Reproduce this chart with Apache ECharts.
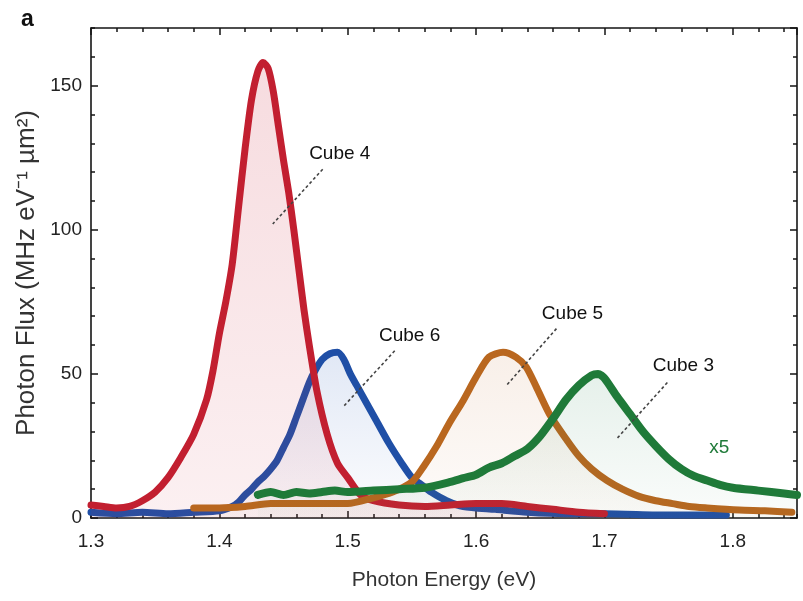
<!DOCTYPE html>
<html>
<head>
<meta charset="utf-8">
<script src="https://cdn.jsdelivr.net/npm/echarts@6/dist/echarts.min.js"></script>
<style>
  html, body { margin: 0; background: #fff; }
  #chart { width: 803px; height: 601px; }
</style>
</head>
<body>
<div id="chart"></div>
<script>
// values (photon energy in eV, flux in MHz eV^-1 um^2)
const cube4Energy = [1.300, 1.310, 1.320, 1.330, 1.340, 1.350, 1.360, 1.370, 1.380, 1.390, 1.395, 1.400, 1.405, 1.410, 1.415, 1.420, 1.425, 1.430, 1.434, 1.438, 1.442, 1.446, 1.450, 1.454, 1.458, 1.462, 1.466, 1.470, 1.476, 1.484, 1.492, 1.500, 1.510, 1.520, 1.540, 1.560, 1.580, 1.600, 1.620, 1.640, 1.660, 1.680, 1.700];
const cube4Flux = [4.5, 4, 3.5, 4, 6, 9, 14, 21, 29, 41, 51, 64, 75, 88, 108, 128, 145, 155, 158, 156, 148, 136, 124, 113, 100, 86, 72, 60, 44, 29, 19, 14, 8, 6, 4.5, 4, 4.5, 5, 5, 4, 3, 2, 1.5];

const cube6Energy = [1.300, 1.320, 1.340, 1.360, 1.380, 1.400, 1.410, 1.415, 1.420, 1.425, 1.430, 1.435, 1.440, 1.445, 1.450, 1.455, 1.460, 1.465, 1.470, 1.475, 1.480, 1.486, 1.492, 1.497, 1.502, 1.507, 1.512, 1.522, 1.532, 1.542, 1.550, 1.556, 1.565, 1.577, 1.590, 1.615, 1.640, 1.670, 1.700, 1.750, 1.795];
const cube6Flux = [2, 1.5, 2, 1.5, 2, 2.5, 4, 5.5, 8, 10, 12.5, 14.5, 17, 20, 24.5, 29, 35, 41, 47, 51.5, 55, 57, 57.5, 55, 50, 46, 42, 34, 26, 19, 14, 12, 9, 6, 4, 3, 2, 1.5, 1.5, 1, 1];

const cube5Energy = [1.380, 1.400, 1.420, 1.440, 1.460, 1.480, 1.500, 1.520, 1.535, 1.550, 1.559, 1.569, 1.579, 1.590, 1.600, 1.610, 1.621, 1.631, 1.639, 1.647, 1.657, 1.670, 1.680, 1.690, 1.702, 1.714, 1.727, 1.740, 1.753, 1.766, 1.780, 1.805, 1.825, 1.846];
const cube5Flux = [3.5, 3.5, 4, 5, 5, 5, 5, 7, 9, 12.5, 17.8, 24.7, 32.8, 40.8, 48.9, 55.8, 57.5, 55.8, 52.4, 45.4, 36.2, 27.5, 21.5, 17, 13, 10, 7.5, 6, 5, 4, 3.5, 2.8, 2.5, 2];

// Cube 3 is plotted x5
const cube3Energy = [1.430, 1.440, 1.450, 1.460, 1.470, 1.480, 1.490, 1.500, 1.520, 1.540, 1.560, 1.580, 1.590, 1.600, 1.610, 1.620, 1.630, 1.640, 1.650, 1.660, 1.670, 1.680, 1.690, 1.695, 1.700, 1.710, 1.720, 1.730, 1.740, 1.750, 1.760, 1.770, 1.780, 1.790, 1.800, 1.820, 1.840, 1.850];
const cube3Flux = [8, 9, 8, 9, 8.5, 9, 9.5, 9, 9.5, 10, 10.5, 12.5, 13.8, 15, 17.5, 19, 21.5, 24, 28.5, 34.5, 41, 46, 49.5, 50, 48.5, 42, 36, 30, 25, 20.5, 17, 14.5, 13, 11.5, 10.5, 9.5, 8.5, 8];

const xTickValues = [1.3, 1.4, 1.5, 1.6, 1.7, 1.8];
const yTickValues = [0, 50, 100, 150];

const FONT = '"Liberation Sans", Arial, Helvetica, sans-serif';
const INK = '#151515';

const zip = (xs, ys) => xs.map((x, i) => [x, ys[i]]);

const fade = (rgb, top, bottom) => new echarts.graphic.LinearGradient(0, 0, 0, 1, [
  { offset: 0, color: `rgba(${rgb},${top})` },
  { offset: 1, color: `rgba(${rgb},${bottom})` }
]);

function curve(name, energy, flux, color, rgb, top, bottom, width, z) {
  return {
    name,
    type: 'line',
    data: zip(energy, flux),
    smooth: 0.25,
    showSymbol: false,
    z,
    lineStyle: { color, width, cap: 'round', join: 'round' },
    areaStyle: { color: fade(rgb, top, bottom), origin: 'start' },
    silent: true
  };
}

function xAxis(position, interval, tickLen, main) {
  return {
    type: 'value',
    position,
    min: 1.3,
    max: 1.85,
    interval,
    axisLine: { show: main, onZero: false, lineStyle: { color: INK, width: 1.6 } },
    axisTick: { show: true, inside: true, length: tickLen, lineStyle: { color: INK, width: 1.5 } },
    axisLabel: {
      show: main && position === 'bottom',
      showMaxLabel: false,
      margin: 14,
      color: '#222',
      fontFamily: FONT,
      fontSize: 19,
      formatter: (v) => (xTickValues.some((t) => Math.abs(t - v) < 1e-6) ? String(v) : '')
    },
    splitLine: { show: false },
    name: main && position === 'bottom' ? 'Photon Energy (eV)' : '',
    nameLocation: 'middle',
    nameGap: 52,
    nameTextStyle: { color: '#333', fontFamily: FONT, fontSize: 21 }
  };
}

function yAxis(position, interval, tickLen, main) {
  return {
    type: 'value',
    position,
    min: 0,
    max: 170,
    interval,
    axisLine: { show: main, onZero: false, lineStyle: { color: INK, width: 1.6 } },
    axisTick: { show: true, inside: true, length: tickLen, lineStyle: { color: INK, width: 1.5 } },
    axisLabel: {
      show: main && position === 'left',
      showMaxLabel: false,
      margin: 9,
      color: '#222',
      fontFamily: FONT,
      fontSize: 19,
      formatter: (v) => (yTickValues.includes(v) ? String(v) : '')
    },
    splitLine: { show: false },
    name: main && position === 'left' ? 'Photon Flux (MHz eV⁻¹ µm²)' : '',
    nameLocation: 'middle',
    nameGap: 46,
    nameTextStyle: { color: '#333', fontFamily: FONT, fontSize: 26 }
  };
}

const chart = echarts.init(document.getElementById('chart'), null, { renderer: 'canvas' });

chart.setOption({
  animation: false,
  backgroundColor: '#fff',
  grid: { left: 91, right: 6, top: 28, bottom: 83 },
  xAxis: [
    xAxis('bottom', 0.1, 7, true),
    xAxis('bottom', 0.02, 4, false),
    xAxis('top', 0.1, 7, true),
    xAxis('top', 0.02, 4, false)
  ],
  yAxis: [
    yAxis('left', 50, 7, true),
    yAxis('left', 10, 4, false),
    yAxis('right', 50, 7, true),
    yAxis('right', 10, 4, false)
  ],
  series: [
    curve('Cube 6', cube6Energy, cube6Flux, '#1f4fa6', '40,90,185', 0.2, 0.02, 7, 2),
    curve('Cube 4', cube4Energy, cube4Flux, '#c21f30', '205,45,65', 0.24, 0.1, 7, 3),
    curve('Cube 5', cube5Energy, cube5Flux, '#b9671f', '195,115,55', 0.16, 0.04, 7, 4),
    curve('Cube 3', cube3Energy, cube3Flux, '#1f7a39', '40,130,80', 0.17, 0.03, 8, 5)
  ]
});

// annotation text and dashed leaders, placed in data coordinates
const notes = [
  { text: 'Cube 4', at: [1.4938, 126.3], from: [1.4805, 121], to: [1.4416, 102] },
  { text: 'Cube 6', at: [1.5482, 63.3], from: [1.5366, 58], to: [1.4961, 38.4] },
  { text: 'Cube 5', at: [1.6751, 70.9], from: [1.6626, 65.7], to: [1.6237, 46] },
  { text: 'Cube 3', at: [1.7615, 52.9], from: [1.749, 47], to: [1.71, 27.7] }
];
const px = (p) => chart.convertToPixel({ gridIndex: 0 }, p);

const graphics = [];
notes.forEach((n) => {
  const [tx, ty] = px(n.at);
  const [x1, y1] = px(n.from);
  const [x2, y2] = px(n.to);
  graphics.push({
    type: 'text', x: tx, y: ty, z: 20,
    style: { text: n.text, fill: '#111', font: `19px ${FONT}`, align: 'center', verticalAlign: 'middle' }
  });
  graphics.push({
    type: 'line', z: 20,
    shape: { x1, y1, x2, y2 },
    style: { stroke: '#444', lineWidth: 1.6, lineDash: [3, 2.5] }
  });
});
const [x5x, x5y] = px([1.7895, 24.2]);
graphics.push({
  type: 'text', x: x5x, y: x5y, z: 20,
  style: { text: 'x5', fill: '#1f7a39', font: `19px ${FONT}`, align: 'center', verticalAlign: 'middle' }
});
graphics.push({
  type: 'text', left: 21, top: 8, z: 20,
  style: { text: 'a', fill: '#111', font: `bold 23px ${FONT}` }
});

chart.setOption({ graphic: graphics });
</script>
</body>
</html>
